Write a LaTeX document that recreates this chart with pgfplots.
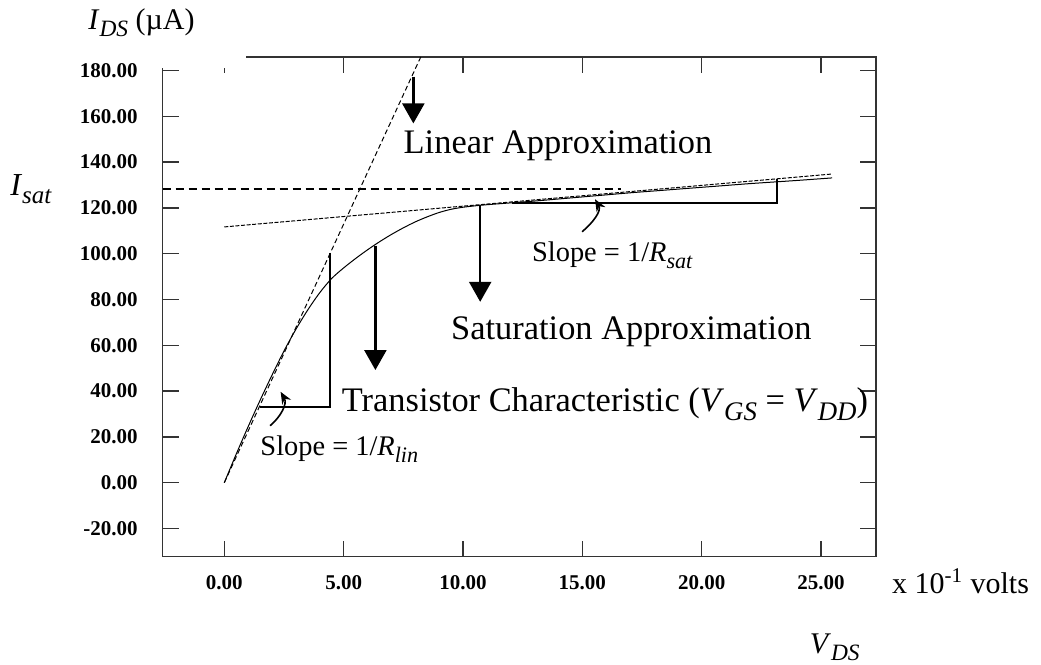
\documentclass[border=0pt]{standalone}
\usepackage{fontspec}
\setmainfont{Liberation Serif}
\usepackage{graphicx}
\usepackage{pgfplots}
\pgfplotsset{compat=1.18}
\usetikzlibrary{arrows.meta}

% subscript a little larger than \textsubscript, as in the original
\newcommand{\sub}[1]{\raisebox{-0.25em}{\scalebox{0.78}{\itshape #1}}}
\newcommand{\bigtxt}{\fontsize{17.2}{20}\selectfont}
\newcommand{\midtxt}{\fontsize{14.2}{17}\selectfont}

\begin{document}
\begin{tikzpicture}
\path[use as bounding box] (-81.35pt,-54.15pt) rectangle (439.15pt,278.35pt);
\begin{axis}[
    at={(0,0)}, anchor=south west,
    scale only axis,
    width=356.65pt, height=249.85pt,
    xmin=-2.58, xmax=27.3,
    ymin=-32.3, ymax=185.9,
    xtick={0,5,...,25},
    ytick={-20,0,...,180},
    axis line style={black!80, line width=0.75pt},
    major tick length=8pt,
    tick style={black!80, line width=0.75pt},
    tick label style={font=\fontsize{10.5}{12}\selectfont\bfseries},
    /pgf/number format/fixed,
    /pgf/number format/fixed zerofill,
    /pgf/number format/precision=2,
    /pgf/number format/assume math mode=true,
    yticklabel style={inner sep=0pt, xshift=-12.3pt},
    xticklabel style={inner sep=0pt, yshift=-9pt},
    clip=false,
]

% transistor characteristic
\addplot[black, line width=0.5pt, smooth] coordinates {
    (0,0) (0.5,12.5) (1,24.5) (1.5,36) (2,47) (2.5,57.5) (3,67) (3.5,75.5)
    (4,83) (4.5,89.2) (5,93.8) (5.5,97.9) (6,101.7) (6.5,105.2) (7,108.4)
    (7.5,111.3) (8,113.9) (8.5,116.1) (9,118) (9.5,119.4) (10,120.3)
    (10.5,120.9) (11,121.4) (12,122.2) (13,123.0) (14,123.9) (15,124.8)
    (16,125.7) (17,126.6) (18,127.4) (19,128.2) (20,129.0) (21,129.8)
    (22,130.6) (23,131.3) (24,132.0) (25.46,133.1)
};

% linear approximation
\addplot[black, line width=0.5pt, dash pattern=on 2.5pt off 1.5pt] coordinates {
    (0,0) (8.23,185.9)
};

% saturation approximation
\addplot[black, line width=0.5pt, dash pattern=on 2pt off 0.8pt] coordinates {
    (0,111.7) (25.46,134.8)
};

% I_sat level
\addplot[black, line width=0.9pt, dash pattern=on 4pt off 2.5pt] coordinates {
    (-2.58,128.3) (16.6,128.3)
};

% slope triangles
\addplot[black, line width=1pt] coordinates {(1.5,33.2) (4.43,33.2) (4.43,100.1)};
\addplot[black, line width=1pt] coordinates {(12.04,122) (23.14,122) (23.14,132.7)};

% pointer arrows
\draw[line width=1.2pt, -{Triangle[width=11pt,length=10pt]}]
    (axis cs:7.92,177.3) -- (axis cs:7.92,156.9);
\draw[line width=1.2pt, -{Triangle[width=11pt,length=10pt]}]
    (axis cs:6.33,103.5) -- (axis cs:6.33,49.2);
\draw[line width=1.2pt, -{Triangle[width=11pt,length=10pt]}]
    (axis cs:10.72,120.7) -- (axis cs:10.72,79);
\draw[line width=0.8pt, -{Stealth[length=6pt,width=5pt]}]
    (axis cs:1.92,24.9) to[out=40,in=-60] (axis cs:2.36,39.7);
\draw[line width=0.8pt, -{Stealth[length=6pt,width=5pt]}]
    (axis cs:14.99,109.6) to[out=40,in=-60] (axis cs:15.53,123.8);

% labels
\node[anchor=base west, inner sep=0pt, font=\bigtxt] at (axis cs:7.5,143.9)
    {Linear Approximation};
\node[anchor=base west, inner sep=0pt, font=\bigtxt] at (axis cs:9.49,62.6)
    {Saturation Approximation};
\node[anchor=base west, inner sep=0pt, font=\bigtxt] at (axis cs:4.91,31.0)
    {Transistor Characteristic (\textit{V}\sub{GS} = \textit{V}\sub{DD})};
\node[anchor=base west, inner sep=0pt, font=\midtxt] at (axis cs:12.88,96.5)
    {Slope = 1/\textit{R}\sub{sat}};
\node[anchor=base west, inner sep=0pt, font=\midtxt] at (axis cs:1.5,12.1)
    {Slope = 1/\textit{R}\sub{lin}};
\node[anchor=base west, inner sep=0pt, font=\fontsize{15}{18}\selectfont]
    at (axis cs:-5.71,198) {\textit{I}\sub{DS} (µA)};
\node[anchor=base west, inner sep=0pt, font=\fontsize{16}{19}\selectfont]
    at (axis cs:-8.98,125.6) {\textit{I}\sub{sat}};
\node[anchor=base west, inner sep=0pt, font=\fontsize{15}{18}\selectfont]
    at (axis cs:27.96,-48.3) {x 10\textsuperscript{-1} volts};
\node[anchor=base west, inner sep=0pt, font=\fontsize{15}{18}\selectfont]
    at (axis cs:24.51,-74.5) {\textit{V}\sub{DS}};

\coordinate (wA) at (axis cs:-2.8,189);
\coordinate (wB) at (axis cs:0.93,181.3);
\end{axis}
% gap in the frame at the top left corner, as in the original
\fill[white] (wA) rectangle (wB);
\end{tikzpicture}
\end{document}
